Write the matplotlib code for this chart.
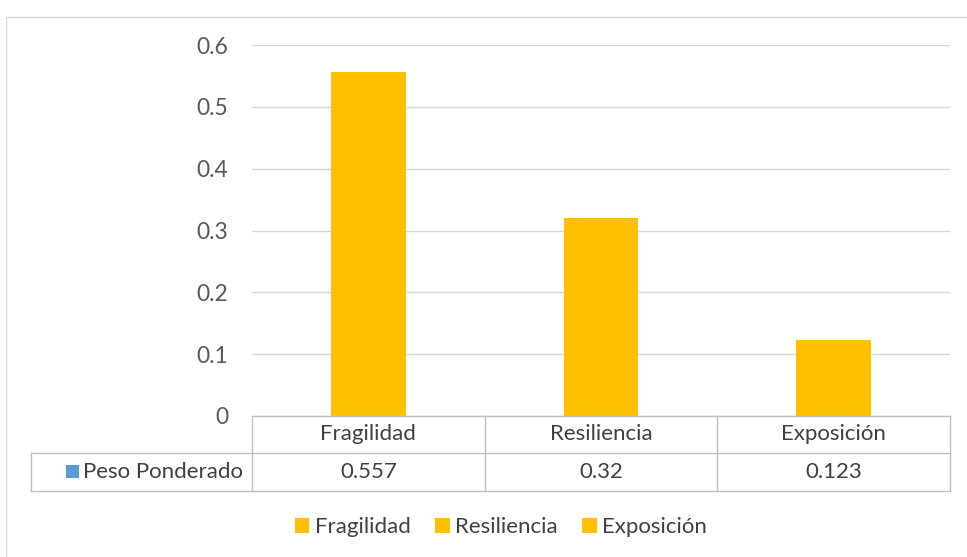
import matplotlib.pyplot as plt
from matplotlib.patches import Patch, Rectangle
from matplotlib.lines import Line2D
import matplotlib.transforms as mtransforms

categories = ["Fragilidad", "Resiliencia", "Exposición"]
values = [0.557, 0.32, 0.123]
value_labels = ["0.557", "0.32", "0.123"]
series_name = "Peso Ponderado"

GOLD = "#FFC000"
BLUE = "#5B9BD5"
GRID = "#D9D9D9"
TXT = "#404040"

plt.rcParams["font.family"] = ["Lato", "DejaVu Sans"]

W, H = 967, 557
fig = plt.figure(figsize=(W / 100, H / 100), dpi=100)

# chart area border (top and left visible)
fig.add_artist(Line2D([6 / W, 6 / W], [0, 1 - 17 / H], transform=fig.transFigure, color=GRID, lw=1))
fig.add_artist(Line2D([6 / W, 1], [1 - 17 / H, 1 - 17 / H], transform=fig.transFigure, color=GRID, lw=1))

x0, x1, ytop, ybot = 252, 950, 45, 416
ax = fig.add_axes([x0 / W, 1 - ybot / H, (x1 - x0) / W, (ybot - ytop) / H])

xs = range(len(categories))
ax.bar(xs, values, width=0.32, color=GOLD, zorder=2)
ax.set_xlim(-0.5, len(categories) - 0.5)
ax.set_ylim(0, 0.6)
ax.set_yticks([0, 0.1, 0.2, 0.3, 0.4, 0.5, 0.6])
ax.set_yticklabels(["0", "0.1", "0.2", "0.3", "0.4", "0.5", "0.6"])
ax.yaxis.grid(True, color=GRID, lw=1, zorder=0)
ax.set_axisbelow(True)
for s in ax.spines.values():
    s.set_visible(False)
ax.tick_params(axis="y", length=0, pad=17, labelsize=16.5, labelcolor="#595959")
ax.set_xticks([])

# data table below the plot
trans = mtransforms.blended_transform_factory(ax.transData, ax.transAxes)
ph = ybot - ytop
r1 = -37 / ph
r2 = -75 / ph
left = (31 - x0) / ((x1 - x0) / 3) - 0.5
right = len(categories) - 0.5
TL = "#BFBFBF"

def hline(xa, xb, y):
    ax.add_line(Line2D([xa, xb], [y, y], transform=trans, color=TL, lw=1, clip_on=False))

def vline(x, ya, yb):
    ax.add_line(Line2D([x, x], [ya, yb], transform=trans, color=TL, lw=1, clip_on=False))

hline(-0.5, right, 0)
hline(left, right, r1)
hline(left, right, r2)
for b in range(len(categories) + 1):
    vline(b - 0.5, 0, r2)
vline(left, r1, r2)

for i, c in enumerate(categories):
    ax.text(i, r1 / 2, c, transform=trans, ha="center", va="center", fontsize=16, color=TXT)
    ax.text(i, (r1 + r2) / 2, value_labels[i], transform=trans, ha="center", va="center", fontsize=16, color=TXT)

ax.add_patch(Rectangle((66 / W, 1 - 478 / H), 13 / W, 13 / H, transform=fig.transFigure,
                       facecolor=BLUE, clip_on=False))
fig.text(83 / W, 1 - 472 / H, series_name, ha="left", va="center", fontsize=16, color=TXT)

handles = [Patch(facecolor=GOLD, label=c) for c in categories]
fig.legend(handles=handles, loc="center", bbox_to_anchor=(501 / W, 1 - 527 / H), ncol=3,
           frameon=False, fontsize=16, handlelength=0.65, handleheight=0.65,
           handletextpad=0.25, columnspacing=1.1, labelcolor=TXT)

fig.savefig("out.png", dpi=100)
